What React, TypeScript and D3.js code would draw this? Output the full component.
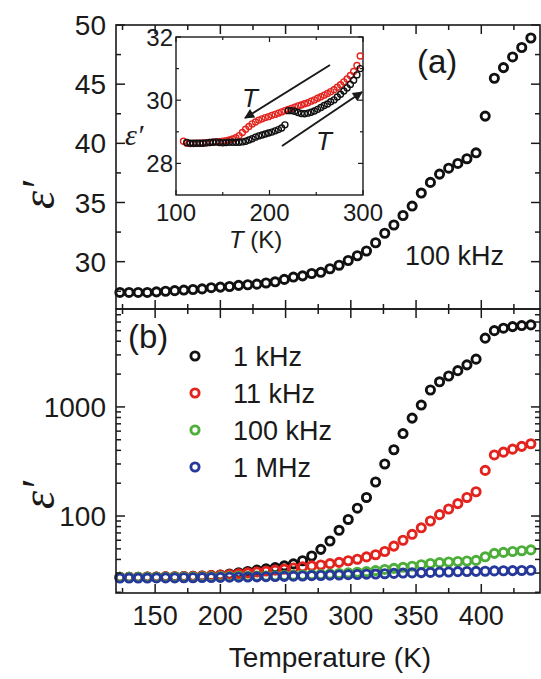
import React from 'react';
import * as d3 from 'd3';

// ---------- data ----------
const temps = [123,130,137,144,151,158,165,172,179,186,193,200,207,214,221,228,235,242,249,256,263,270,277,284,291,298,305,312,319,326,333,340,347,354,361,368,375,382,389,396,403,410,417,424,431,438];

// panel (a) and 100 kHz in (b)
const eps100k = [27.4,27.4,27.4,27.4,27.45,27.5,27.55,27.6,27.65,27.7,27.8,27.85,27.9,28.0,28.05,28.1,28.2,28.3,
  28.5,28.7,28.8,29.0,29.1,29.4,29.7,30.1,30.5,30.9,31.6,32.4,33.1,33.9,34.7,35.8,36.7,37.4,37.9,38.3,38.7,39.2,42.3,45.5,46.4,47.3,48.1,48.9];
const eps1k = [27.5,27.5,27.5,27.6,27.6,27.7,27.8,27.9,28.0,28.2,28.4,28.8,29.4,
  30.2,31.0,31.9,32.8,33.7,34.9,36.4,38.9,43,49.5,59,74,93,118,148,205,300,405,570,790,1040,1430,1700,1920,2150,2430,2740,4270,5000,5270,5450,5570,5650];
const eps11k = [27.5,27.5,27.5,27.6,27.6,27.7,27.8,27.9,28.0,28.2,28.4,28.7,29.1,29.6,30.1,30.7,31.3,31.9,32.6,33.4,
  34.3,34.9,35.6,36.6,37.6,38.9,40.2,42.2,44.2,47.3,53,60,68,78,90,103,116,130,148,167,262,363,385,410,435,460];
const eps1M = [27.0,27.0,27.0,27.0,27.1,27.1,27.1,27.2,27.2,27.3,27.3,27.4,27.5,27.5,27.6,27.7,27.8,27.9,28.0,28.1,28.2,
  28.4,28.5,28.7,28.8,29.0,29.1,29.3,29.4,29.6,29.8,30.0,30.1,30.3,30.4,30.6,30.7,30.9,31.0,31.1,31.2,31.4,31.5,31.6,31.7,31.8];

const seriesNames = ['1 kHz', '11 kHz', '100 kHz', '1 MHz'];
const seriesColors = ['#111111', '#e3231d', '#4dae3a', '#26399a'];

// inset
const insetT = [108,111.5,115,118.5,122,125.5,129,132.5,136,139.5,143,146.5,150,153.5,157,160.5,164,167.5,171,174.5,178,181.5,185,188.5,192,195.5,199,202.5,206,209.5,213,216.5,220,223.5,227,230.5,234,237.5,241,244.5,248,251.5,255,258.5,262,265.5,269,272.5,276,279.5,283,286.5,290,293.5,297];
const insetCooling = [28.70,28.64,28.63,28.63,28.64,28.64,28.65,28.65,28.66,28.67,28.68,28.69,28.70,28.72,28.74,28.77,28.81,28.88,28.98,29.08,29.17,29.25,29.31,29.37,29.41,29.45,29.48,29.52,29.55,29.59,29.63,29.67,29.71,29.74,29.78,29.82,29.85,29.89,29.92,29.97,30.01,30.06,30.11,30.16,30.21,30.27,30.33,30.41,30.49,30.58,30.67,30.78,30.91,31.10,31.40];
const insetHeating = [null,28.66,28.64,28.64,28.64,28.64,28.64,28.65,28.66,28.67,28.68,28.66,28.65,28.66,28.67,28.67,28.67,28.67,28.68,28.70,28.74,28.78,28.83,28.87,28.90,28.93,28.96,28.99,29.03,29.07,29.12,29.22,29.67,29.67,29.65,29.61,29.58,29.57,29.59,29.62,29.66,29.71,29.77,29.83,29.88,29.95,30.01,30.10,30.19,30.29,30.39,30.50,30.63,30.80,31.00];

// ticks
const xMajor = [150, 200, 250, 300, 350, 400];
const xMinor = [125, 175, 225, 275, 325, 375, 425];
const yAMajor = [30, 35, 40, 45, 50];
const yAMinor = [27.5, 32.5, 37.5, 42.5, 47.5];
const yBMajor = [100, 1000];
const yBMinor = [20,30,40,50,60,70,80,90,200,300,400,500,600,700,800,900,2000,3000,4000,5000,6000,7000];
const insXMajor = [100, 200, 300];
const insXMinor = [150, 250];
const insYMajor = [28, 30, 32];
const insYMinor = [29, 31];

const SANS = 'Liberation Sans, Arial, sans-serif';
const SERIF = 'Liberation Serif, Times New Roman, serif';
const INK = '#1a1a1a';
const MR = 4.1, MSW = 2.9;

export default function App() {
  const L = 116, R = 540;
  const topA = 25, botA = 309, topB = 309, botB = 593;
  const x = d3.scaleLinear().domain([120, 445]).range([L, R]);
  const yA = d3.scaleLinear().domain([26, 50]).range([botA, topA]);
  const yB = d3.scaleLog().domain([19.7, 7900]).range([botB, topB]);
  const xi = d3.scaleLinear().domain([100, 300]).range([176, 363]);
  const yi = d3.scaleLinear().domain([27, 32]).range([195, 37]);

  const MJ = 9, MN = 5;
  const ticksX = (vals: number[], len: number, y0: number, y1: number, key: string) =>
    vals.map(v => (
      <g key={key + v}>
        <line x1={x(v)} x2={x(v)} y1={y0} y2={y0 - len} stroke={INK} strokeWidth={1.5} />
        <line x1={x(v)} x2={x(v)} y1={y1} y2={y1 + len} stroke={INK} strokeWidth={1.5} />
      </g>
    ));
  const ticksY = (vals: number[], sc: (v: number) => number, len: number, key: string) =>
    vals.map(v => (
      <g key={key + v}>
        <line x1={L} x2={L + len} y1={sc(v)} y2={sc(v)} stroke={INK} strokeWidth={1.5} />
        <line x1={R} x2={R - len} y1={sc(v)} y2={sc(v)} stroke={INK} strokeWidth={1.5} />
      </g>
    ));

  const bSeries = [eps1k, eps11k, eps100k, eps1M];
  const legendY = [356, 393, 430, 467];

  return (
    <svg width={541} height={679} style={{ position: 'absolute', left: 0, top: 0, background: '#fff' }}>
      <defs>
        <marker id="ah" viewBox="0 0 10 10" refX="9" refY="5" markerWidth="6.5" markerHeight="5" orient="auto" markerUnits="strokeWidth">
          <path d="M0,0 L10,5 L0,10 z" fill={INK} />
        </marker>
      </defs>

      {/* ---------- panel (a) ---------- */}
      <g>
        {temps.map((t, i) => (
          <circle key={'a' + i} cx={x(t)} cy={yA(eps100k[i])} r={MR} fill="none" stroke="#111" strokeWidth={MSW} />
        ))}
        <rect x={L} y={topA} width={R - L} height={botA - topA} fill="none" stroke={INK} strokeWidth={1.6} />
        {ticksX(xMajor, MJ, botA, topA, 'axM')}
        {ticksX(xMinor, MN, botA, topA, 'axm')}
        {ticksY(yAMajor, yA, MJ, 'ayM')}
        {ticksY(yAMinor, yA, MN, 'aym')}
        {yAMajor.map(v => (
          <text key={'ayl' + v} x={106} y={yA(v)} dy="0.36em" textAnchor="end" fontFamily={SANS} fontSize={28} fill={INK}>{v}</text>
        ))}
        <text x={417} y={73} fontFamily={SANS} fontSize={33} fill={INK}>(a)</text>
        <text x={405} y={265} fontFamily={SANS} fontSize={27} fill={INK}>100 kHz</text>
        <text transform="translate(54,195) rotate(-90)" textAnchor="middle" fontFamily={SERIF} fontStyle="italic" fontSize={46} fill={INK}>ε′</text>
      </g>

      {/* ---------- inset ---------- */}
      <g>
        <rect x={176} y={37} width={187} height={158} fill="#fff" stroke={INK} strokeWidth={1.4} />
        {insetT.map((t, i) => (
          <circle key={'ic' + i} cx={xi(t)} cy={yi(insetCooling[i])} r={3} fill="none" stroke="#e3231d" strokeWidth={1.4} />
        ))}
        {insetT.map((t, i) => insetHeating[i] == null ? null : (
          <circle key={'ih' + i} cx={xi(t)} cy={yi(insetHeating[i] as number)} r={3} fill="none" stroke="#111" strokeWidth={1.4} />
        ))}
        {insXMajor.concat(insXMinor).map(v => {
          const len = insXMajor.includes(v) ? 5 : 3;
          return (
            <g key={'ix' + v}>
              <line x1={xi(v)} x2={xi(v)} y1={195} y2={195 - len} stroke={INK} strokeWidth={1.2} />
              <line x1={xi(v)} x2={xi(v)} y1={37} y2={37 + len} stroke={INK} strokeWidth={1.2} />
            </g>
          );
        })}
        {insYMajor.concat(insYMinor).map(v => {
          const len = insYMajor.includes(v) ? 5 : 3;
          return (
            <g key={'iy' + v}>
              <line x1={176} x2={176 + len} y1={yi(v)} y2={yi(v)} stroke={INK} strokeWidth={1.2} />
              <line x1={363} x2={363 - len} y1={yi(v)} y2={yi(v)} stroke={INK} strokeWidth={1.2} />
            </g>
          );
        })}
        {insXMajor.map(v => (
          <text key={'ixl' + v} x={xi(v)} y={221} textAnchor="middle" fontFamily={SANS} fontSize={24} fill={INK}>{v}</text>
        ))}
        {insYMajor.map(v => (
          <text key={'iyl' + v} x={173} y={yi(v)} dy="0.36em" textAnchor="end" fontFamily={SANS} fontSize={24} fill={INK}>{v}</text>
        ))}
        <text x={125} y={145} fontFamily={SERIF} fontStyle="italic" fontSize={30} fill={INK}>ε′</text>
        <text x={229} y={248} fontFamily={SANS} fontSize={24} fill={INK}>
          <tspan fontStyle="italic">T</tspan> (K)
        </text>
        <line x1={330} y1={65} x2={245} y2={118} stroke={INK} strokeWidth={2} markerEnd="url(#ah)" />
        <line x1={282} y1={146} x2={362} y2={92} stroke={INK} strokeWidth={2} markerEnd="url(#ah)" />
        <text x={242} y={107} fontFamily={SANS} fontStyle="italic" fontSize={26} fill={INK}>T</text>
        <text x={316} y={150} fontFamily={SANS} fontStyle="italic" fontSize={26} fill={INK}>T</text>
      </g>

      {/* ---------- panel (b) ---------- */}
      <g>
        {bSeries.map((s, si) => (
          <g key={'s' + si}>
            {temps.map((t, i) => (
              <circle key={i} cx={x(t)} cy={yB(s[i])} r={MR} fill="none" stroke={seriesColors[si]} strokeWidth={MSW} />
            ))}
          </g>
        ))}
        <rect x={L} y={topB} width={R - L} height={botB - topB} fill="none" stroke={INK} strokeWidth={1.6} />
        {ticksX(xMajor, MJ, botB, topB, 'bxM')}
        {ticksX(xMinor, MN, botB, topB, 'bxm')}
        {ticksY(yBMajor, yB, MJ, 'byM')}
        {ticksY(yBMinor, yB, MN, 'bym')}
        {yBMajor.map(v => (
          <text key={'byl' + v} x={106} y={yB(v)} dy="0.36em" textAnchor="end" fontFamily={SANS} fontSize={28} fill={INK}>{v}</text>
        ))}
        {xMajor.map(v => (
          <text key={'bxl' + v} x={x(v)} y={625} textAnchor="middle" fontFamily={SANS} fontSize={27} fill={INK}>{v}</text>
        ))}
        <text x={330} y={667} textAnchor="middle" fontFamily={SANS} fontSize={28} fill={INK}>Temperature (K)</text>
        <text x={128} y={348} fontFamily={SANS} fontSize={33} fill={INK}>(b)</text>
        <text transform="translate(54,495) rotate(-90)" textAnchor="middle" fontFamily={SERIF} fontStyle="italic" fontSize={46} fill={INK}>ε′</text>
        {seriesNames.map((n, i) => (
          <g key={'lg' + i}>
            <circle cx={195} cy={legendY[i]} r={MR} fill="none" stroke={seriesColors[i]} strokeWidth={MSW} />
            <text x={233} y={legendY[i]} dy="0.36em" fontFamily={SANS} fontSize={27} fill={INK}>{n}</text>
          </g>
        ))}
      </g>
    </svg>
  );
}
